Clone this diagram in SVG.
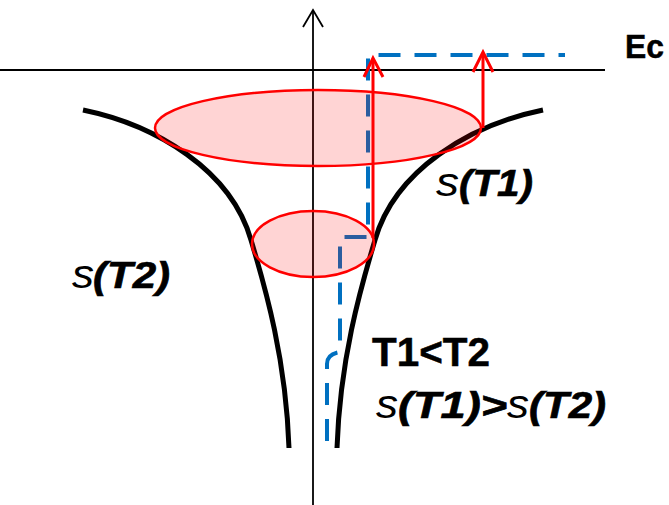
<svg xmlns="http://www.w3.org/2000/svg" width="669" height="505" viewBox="0 0 669 505">
<style>
.curve{fill:none;stroke:#000;stroke-width:5;stroke-linecap:butt}
.axis{fill:none;stroke:#000;stroke-width:1.8}
.ell{fill:#FF0000;fill-opacity:0.17;stroke:#FF0000;stroke-width:2.5}
.red{fill:none;stroke:#FF0000;stroke-width:3}
.blue{fill:none;stroke:#0070C0;stroke-width:4;stroke-dasharray:22 14;stroke-linejoin:round}
.b{font-family:"Liberation Sans",Arial,sans-serif;font-weight:bold;fill:#000;stroke:#000;stroke-width:0.5}
.bi{font-family:"Liberation Sans",Arial,sans-serif;font-weight:bold;font-style:italic;fill:#000;stroke:#000;stroke-width:0.7}
.s{font-family:"Liberation Sans",Arial,sans-serif;font-style:italic;fill:#000}
</style>
<g id="connectors">
<path class="curve" d="M543,110 C470,125 395,170 375,240 C360,290 340,360 337,448"/>
<path class="curve" d="M83,110 C156,125 231,170 251,240 C266,290 286,360 289,448"/>
<line class="axis" x1="0" y1="70" x2="605" y2="70"/>
<line class="axis" x1="313" y1="505" x2="313" y2="11"/>
<path class="axis" d="M303,27 L313,10 L323,27"/>
<path class="blue" d="M327,441 V364 Q327,354 340,352 V237 H368 V55 H565"/>
</g>
<g id="ellipse-big"><ellipse class="ell" cx="318" cy="128" rx="163" ry="38"/></g>
<g id="ellipse-small"><ellipse class="ell" cx="313" cy="244" rx="61" ry="33"/></g>
<g id="arrows">
<line class="red" x1="373" y1="238" x2="373" y2="59"/>
<path class="red" d="M364,77 L373,58 L383,77"/>
<line class="red" x1="483" y1="128" x2="483" y2="53"/>
<path class="red" d="M473,72 L483,52 L493,72"/>
</g>
<g id="labels">
<text class="b" x="625" y="58" font-size="34" textLength="39" lengthAdjust="spacingAndGlyphs">Ec</text>
<text class="s" x="436" y="196" font-size="40" textLength="23" lengthAdjust="spacingAndGlyphs">s</text>
<text class="bi" x="459" y="196" font-size="37" textLength="74" lengthAdjust="spacingAndGlyphs">(T1)</text>
<text class="s" x="72" y="288" font-size="40" textLength="22" lengthAdjust="spacingAndGlyphs">s</text>
<text class="bi" x="93" y="288" font-size="37" textLength="77" lengthAdjust="spacingAndGlyphs">(T2)</text>
<text class="b" x="372" y="366" font-size="40" textLength="118" lengthAdjust="spacingAndGlyphs">T1&lt;T2</text>
<text class="s" x="376" y="418" font-size="40" textLength="22" lengthAdjust="spacingAndGlyphs">s</text>
<text class="bi" x="398" y="418" font-size="37" textLength="109" lengthAdjust="spacingAndGlyphs">(T1)&gt;</text>
<text class="s" x="507" y="418" font-size="40" textLength="22" lengthAdjust="spacingAndGlyphs">s</text>
<text class="bi" x="529" y="418" font-size="37" textLength="77" lengthAdjust="spacingAndGlyphs">(T2)</text>
</g>
</svg>
